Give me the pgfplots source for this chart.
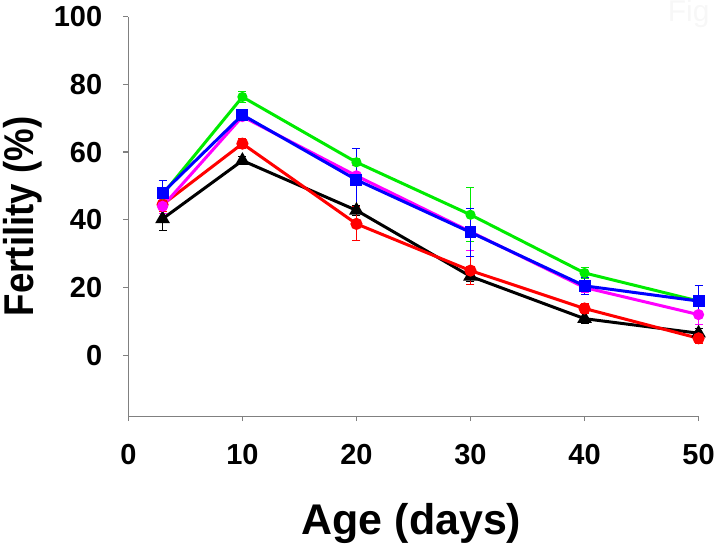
\documentclass[border=0pt]{standalone}
\usepackage{fontspec}
\setmainfont{Liberation Sans}
\usepackage{graphicx}
\usepackage{pgfplots}
\pgfplotsset{compat=1.18}
\definecolor{cgreen}{RGB}{0,235,0}
\definecolor{cblue}{RGB}{0,0,255}
\definecolor{cmag}{RGB}{255,0,255}
\definecolor{cred}{RGB}{255,0,0}
\begin{document}
\begin{tikzpicture}
\begin{axis}[
 name=ax,
 scale only axis, width=571pt, height=400pt,
 xmin=0, xmax=50, ymin=-18, ymax=100,
 axis lines=left,
 axis line style={-, draw=gray, line width=1.3pt},
 xtick={0,10,...,50}, ytick={0,20,...,100},
 tick align=outside, major tick length=5pt,
 tick style={draw=gray, line width=1.3pt},
 ticklabel style={font=\bfseries\fontsize{29}{29}\selectfont},
 /pgf/number format/assume math mode=true,
 xticklabel style={anchor=base, yshift=-43pt},
 yticklabel style={anchor=east, inner sep=0pt, xshift=-21pt},
 xlabel={Age (days)},
 ylabel={\scalebox{0.88}[1]{Fertility (\%)}},
 xlabel style={font=\bfseries\fontsize{43}{43}\selectfont, at={([yshift=-118.7pt,xshift=-2pt]axis description cs:0.5,0)}, anchor=base},
 ylabel style={font=\bfseries\fontsize{41.7}{41.7}\selectfont, at={([xshift=-95pt]axis description cs:0,0.5)}, anchor=base, rotate=0},
 clip=false,
 every axis plot/.append style={line width=3pt},
 error bars/y dir=both, error bars/y explicit,
 error bars/error bar style={line width=1pt},
 error bars/error mark options={rotate=90, mark size=4pt, line width=1pt},
]
% black
\addplot[black, mark=triangle*, mark size=5.5pt, mark options={solid}] coordinates {
 (3,40.3) +- (0,3.5) (10,57.5) +- (0,1.2) (20,42.8) +- (0,1.5) (30,23.3) +- (0,1.5) (40,10.8) +- (0,1.5) (50,6.5) +- (0,1.5)};
% red
\addplot[cred, mark=*, mark size=4.5pt] coordinates {
 (3,44.5) +- (0,2) (10,62.5) +- (0,1.5) (20,38.8) +- (0,5) (30,25) +- (0,4.2) (40,13.8) +- (0,1.5) (50,5) +- (0,1.5)};
% green
\addplot[cgreen, mark=*, mark size=3.5pt] coordinates {
 (3,47.5) +- (0,1) (10,76.3) +- (0,1.5) (20,57) +- (0,1) (30,41.5) +- (0,8) (40,24.3) +- (0,1.5) (50,16) +- (0,1)};
% magenta
\addplot[cmag, mark=*, mark size=4pt] coordinates {
 (3,44) +- (0,2) (10,70.5) +- (0,1) (20,53) +- (0,3) (30,36.5) +- (0,5.5) (40,20) +- (0,1.5) (50,12) +- (0,3)};
% blue
\addplot[cblue, mark=square*, mark size=4.5pt] coordinates {
 (3,48) +- (0,3.5) (10,71) +- (0,1) (20,51.8) +- (0,9.4) (30,36.3) +- (0,7) (40,20.5) +- (0,2.5) (50,16) +- (0,4.7)};
\end{axis}
\node[anchor=base west, text=gray!6, font=\fontsize{30}{30}\selectfont, inner sep=0pt] at ([shift={(540pt,395pt)}]ax.south west) {Fig};
\path[use as bounding box] ([shift={(-128pt,-130pt)}]ax.south west) rectangle ([shift={(590pt,413pt)}]ax.south west);
\end{tikzpicture}
\end{document}
